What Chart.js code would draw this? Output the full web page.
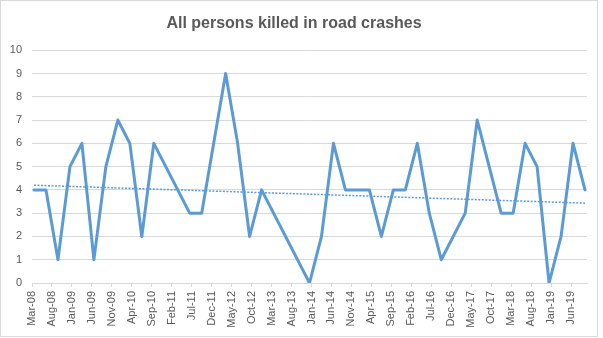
<!DOCTYPE html>
<html>
<head>
<meta charset="utf-8">
<script src="https://cdn.jsdelivr.net/npm/chart.js@4/dist/chart.umd.min.js"></script>
<style>
  body { margin: 0; background: #fff; }
  #wrap { position: absolute; left: 0; top: 0; width: 596px; height: 335px; border: 1px solid #d9d9d9; }
  canvas { display: block; }
</style>
</head>
<body>
<div id="wrap"><canvas id="crashes" width="596" height="335"></canvas></div>
<script>
// quarterly counts, only the quarters where the line turns
const quarters = ['Mar-08', 'Jun-08', 'Sep-08', 'Dec-08', 'Mar-09', 'Jun-09', 'Sep-09', 'Dec-09',
  'Mar-10', 'Jun-10', 'Sep-10', 'Jun-11', 'Sep-11', 'Mar-12', 'Jun-12', 'Sep-12', 'Dec-12',
  'Dec-13', 'Mar-14', 'Jun-14', 'Sep-14', 'Mar-15', 'Jun-15', 'Sep-15', 'Dec-15', 'Mar-16',
  'Jun-16', 'Sep-16', 'Mar-17', 'Jun-17', 'Dec-17', 'Mar-18', 'Jun-18', 'Sep-18', 'Dec-18',
  'Mar-19', 'Jun-19', 'Sep-19'];
const killed = [4, 4, 1, 5, 6, 1, 5, 7, 6, 2, 6, 3, 3, 9, 6, 2, 4, 0, 2, 6, 4, 4, 2, 4, 4, 6, 3, 1,
  3, 7, 3, 3, 6, 5, 0, 2, 6, 4];

// linear trendline, value at the first and last quarter
const trendEnds = [4.2, 3.43];

const yTicks = [0, 1, 2, 3, 4, 5, 6, 7, 8, 9, 10];
const monthNames = ['Jan', 'Feb', 'Mar', 'Apr', 'May', 'Jun', 'Jul', 'Aug', 'Sep', 'Oct', 'Nov', 'Dec'];
const labelEvery = 5; // months between axis labels

// months since Mar-08
function monthIndex(label) {
  let [m, y] = label.split('-');
  return (Number(y) - 8) * 12 + monthNames.indexOf(m) - 2;
}
function monthLabel(i) {
  let m = (i + 2) % 12;
  let y = 8 + Math.floor((i + 2) / 12);
  return monthNames[m] + '-' + String(y).padStart(2, '0');
}

// each quarter sits in the middle of its month
let points = quarters.map((q, i) => ({ x: monthIndex(q) + 0.5, y: killed[i] }));
let trend = [
  { x: points[0].x, y: trendEnds[0] },
  { x: points[points.length - 1].x, y: trendEnds[1] }
];
let lastMonth = monthIndex(quarters[quarters.length - 1]) + 1;

const grey = '#595959';
const gridGrey = '#d9d9d9';
const blue = '#5b9bd5';

let ctx = document.getElementById('crashes').getContext('2d');
new Chart(ctx, {
  type: 'line',
  data: {
    datasets: [
      {
        label: 'All persons killed',
        data: points,
        borderColor: blue,
        borderWidth: 3,
        borderJoinStyle: 'round',
        borderCapStyle: 'round',
        pointRadius: 0,
        tension: 0,
        fill: false
      },
      {
        label: 'Linear trend',
        data: trend,
        borderColor: blue,
        borderWidth: 1.5,
        borderDash: [2, 1.5],
        pointRadius: 0,
        fill: false
      }
    ]
  },
  options: {
    responsive: false,
    animation: false,
    devicePixelRatio: 1,
    layout: { padding: { left: 0, right: 10, top: 0, bottom: 0 } },
    plugins: {
      legend: { display: false },
      tooltip: { enabled: false },
      title: {
        display: true,
        text: 'All persons killed in road crashes',
        color: grey,
        font: { family: 'Liberation Sans', size: 16, weight: 'bold' },
        padding: { top: 13, bottom: 17 }
      }
    },
    scales: {
      x: {
        type: 'linear',
        min: 0,
        max: lastMonth,
        afterFit: scale => { scale.height = 53; },
        afterBuildTicks: scale => {
          let ticks = [];
          for (let m = 0; m < lastMonth; m += labelEvery) ticks.push({ value: m });
          scale.ticks = ticks;
        },
        ticks: {
          autoSkip: false,
          minRotation: 90,
          maxRotation: 90,
          padding: 4,
          color: grey,
          font: { family: 'Liberation Sans', size: 11 },
          callback: v => monthLabel(v)
        },
        grid: { drawOnChartArea: false, drawTicks: true, tickLength: 4, color: gridGrey },
        border: { color: gridGrey }
      },
      y: {
        min: yTicks[0],
        max: yTicks[yTicks.length - 1],
        afterFit: scale => { scale.width = 31; },
        ticks: {
          stepSize: 1,
          padding: 10,
          color: grey,
          font: { family: 'Liberation Sans', size: 11 }
        },
        grid: { color: gridGrey, drawTicks: false },
        border: { display: false }
      }
    }
  }
});
</script>
</body>
</html>
